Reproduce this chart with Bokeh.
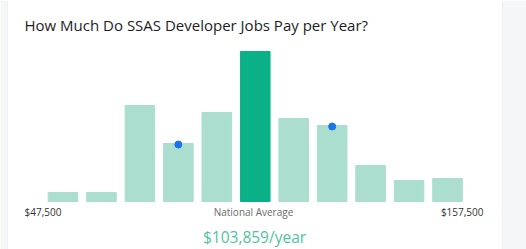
from bokeh.plotting import figure
from bokeh.models import Range1d, Label, Span
from bokeh.embed import file_html
from bokeh.resources import INLINE

# --- data ---
bins = list(range(11))
counts = [9, 9, 96, 58, 89, 150, 83, 76, 36, 21, 23]
highlight_bin = 5
dot_bins = [3, 7]
dot_values = [57, 75]
title_text = "How Much Do SSAS Developer Jobs Pay per Year?"
low_label = "$47,500"
high_label = "$157,500"
mid_label = "National Average"
avg_label = "$103,859/year"

W, H = 526, 249
LEFT, RIGHT = 7, 24
STEP = 38.45           # px per bin
FIRST = 62.5           # px centre of first bin
BASE = 201             # px row of the bars' base

x0 = -(FIRST - LEFT) / STEP
x1 = x0 + (W - LEFT - RIGHT) / STEP
y0, y1 = -(H - BASE), BASE

def px_x(px):
    return x0 + (px - LEFT) / STEP

def px_y(py):
    return BASE - py

p = figure(width=W, height=H, output_backend="svg", toolbar_location=None,
           x_range=Range1d(x0, x1), y_range=Range1d(y0, y1),
           min_border_left=LEFT, min_border_right=RIGHT,
           min_border_top=0, min_border_bottom=0)
p.axis.visible = False
p.grid.visible = False
p.outline_line_color = None
p.background_fill_color = "white"
p.border_fill_color = "#f5f6f8"

colors = ["#0ab187" if b == highlight_bin else "#acdecf" for b in bins]
p.vbar(x=bins, top=counts, bottom=0, width=0.77, color=colors)
p.scatter(x=dot_bins, y=dot_values, size=7, color="#1a73e8")

p.add_layout(Span(location=x0, dimension="height", line_color="#e2e4e8", line_width=1))
p.add_layout(Span(location=x1, dimension="height", line_color="#e2e4e8", line_width=1))

font = "Open Sans"
p.add_layout(Label(x=px_x(24), y=px_y(24), text=title_text, text_font=font,
                   text_font_size="15px", text_color="#1d1d1f",
                   text_baseline="alphabetic", text_align="left"))
p.add_layout(Label(x=px_x(24), y=px_y(211.5), text=low_label, text_font=font,
                   text_font_size="10px", text_color="#333333",
                   text_baseline="alphabetic", text_align="left"))
p.add_layout(Label(x=px_x(483), y=px_y(211.5), text=high_label, text_font=font,
                   text_font_size="10px", text_color="#333333",
                   text_baseline="alphabetic", text_align="right"))
p.add_layout(Label(x=px_x(253), y=px_y(211.5), text=mid_label, text_font=font,
                   text_font_size="10px", text_color="#6b6b6b",
                   text_baseline="alphabetic", text_align="center"))
p.add_layout(Label(x=px_x(254), y=px_y(236.5), text=avg_label, text_font=font,
                   text_font_size="15.5px", text_color="#52c3a0",
                   text_baseline="alphabetic", text_align="center"))

open("out.html", "w").write(file_html(p, INLINE))
